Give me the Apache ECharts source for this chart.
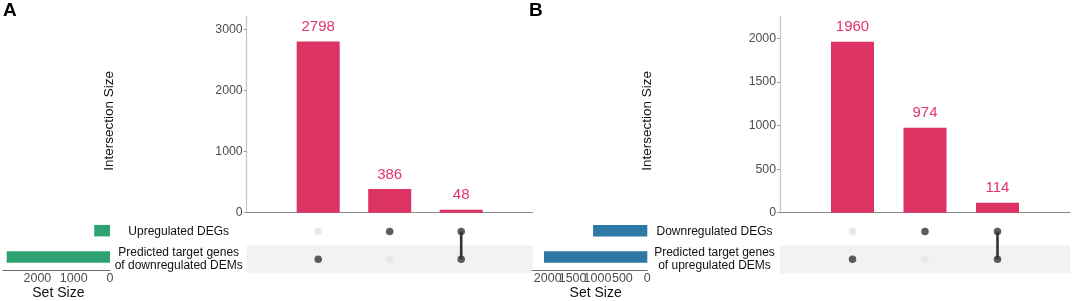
<!DOCTYPE html>
<html>
<head>
<meta charset="utf-8">
<script src="https://cdn.jsdelivr.net/npm/echarts@6.0.0/dist/echarts.min.js"></script>
<style>
  html, body { margin: 0; padding: 0; background: #fff; }
  #main { width: 1072px; height: 301px; }
</style>
</head>
<body>
<div id="main"></div>
<script>
// panel A
var setNamesA = ['Upregulated DEGs', 'Predicted target genes\nof downregulated DEMs'];
var setSizesA = [434, 2846];
var interSizesA = [2798, 386, 48];
var interSetsA = [[1], [0], [0, 1]];
var yTicksA = [0, 1000, 2000, 3000];
var setTicksA = [0, 1000, 2000];

// panel B
var setNamesB = ['Downregulated DEGs', 'Predicted target genes\nof upregulated DEMs'];
var setSizesB = [1088, 2074];
var interSizesB = [1960, 974, 114];
var interSetsB = [[1], [0], [0, 1]];
var yTicksB = [0, 500, 1000, 1500, 2000];
var setTicksB = [0, 500, 1000, 1500, 2000];

var FONT = '"Liberation Sans", Arial, Helvetica, sans-serif';
var BAR_COLOR = '#dc3264';
var LABEL_COLOR = '#e2356a';
var DARK = '#333333';
var LIGHT = '#e3e3e3';

function plain(v) { return String(v); }

var option = {
  animation: false,
  backgroundColor: '#fff',
  textStyle: { fontFamily: FONT },
  title: [
    { text: 'A', left: 3, top: 1, padding: 0, textStyle: { fontSize: 19, fontWeight: 'bold', color: '#000', fontFamily: FONT } },
    { text: 'B', left: 529, top: 1, padding: 0, textStyle: { fontSize: 19, fontWeight: 'bold', color: '#000', fontFamily: FONT } }
  ],
  grid: [], xAxis: [], yAxis: [], series: []
};

function addPanel(p) {
  var g = option.grid.length;
  var n = p.inter.length;
  var cats = [''];
  for (var i = 0; i < n; i++) cats.push('I' + (i + 1));
  cats.push('');

  // intersection bars
  option.grid.push({ left: p.barLeft, top: 16, width: p.barWidth, height: 196.7 });
  // matrix
  option.grid.push({ left: p.barLeft, top: 217.5, width: p.barWidth, height: 55.8 });
  // set size bars
  option.grid.push({ left: p.setLeft, top: 217.5, width: p.setWidth, height: 55.8 });

  var xBar = option.xAxis.length;
  option.xAxis.push({
    gridIndex: g, type: 'category', data: cats, boundaryGap: false,
    axisLine: { lineStyle: { color: '#8a8a8a', width: 1 } },
    axisTick: { show: false }, axisLabel: { show: false }, splitLine: { show: false }
  });
  option.yAxis.push({
    gridIndex: g, type: 'value', min: 0, max: p.yMax,
    axisLine: { show: true, lineStyle: { color: '#c6c6c6', width: 1.2 } },
    axisTick: { show: true, length: 3, customValues: p.yTicks, lineStyle: { color: '#9a9a9a' } },
    axisLabel: { customValues: p.yTicks, formatter: plain, fontSize: 12.3, color: '#4d4d4d', margin: 4, fontFamily: FONT },
    splitLine: { show: false },
    name: 'Intersection Size', nameLocation: 'middle', nameGap: p.nameGap, nameRotate: 90,
    nameTextStyle: { fontSize: 13.5, color: '#111', fontFamily: FONT, padding: [0, 13, 0, 0] }
  });

  var xMat = option.xAxis.length;
  option.xAxis.push({
    gridIndex: g + 1, type: 'category', data: cats, boundaryGap: false, show: false
  });
  option.yAxis.push({
    gridIndex: g + 1, type: 'category', data: p.sets, inverse: true,
    axisLine: { show: false }, axisTick: { show: false },
    axisLabel: { align: 'center', margin: p.setNameMargin, fontSize: 12, lineHeight: 13.4, color: '#111', fontFamily: FONT },
    splitArea: { show: true, areaStyle: { color: ['rgba(255,255,255,0)', '#f2f2f2'] } }
  });

  // set size axis: ticks split over two axes so that crowded labels all stay visible
  var evenTicks = p.setTicks.filter(function (v, k) { return k % 2 === 0; });
  var oddTicks = p.setTicks.filter(function (v, k) { return k % 2 === 1; });
  var xSet = option.xAxis.length;
  option.xAxis.push({
    gridIndex: g + 2, type: 'value', inverse: true, min: 0, max: p.setMax, position: 'bottom',
    axisLine: { show: true, lineStyle: { color: '#6b6b6b', width: 1 } },
    axisTick: { show: false },
    axisLabel: { customValues: evenTicks, formatter: plain, fontSize: 12.5, color: '#4d4d4d', margin: 2, fontFamily: FONT },
    splitLine: { show: false },
    name: 'Set Size', nameLocation: 'middle', nameGap: 15,
    nameTextStyle: { fontSize: 14, color: '#111', fontFamily: FONT, padding: p.setTitlePad }
  });
  if (oddTicks.length) {
    option.xAxis.push({
      gridIndex: g + 2, type: 'value', inverse: true, min: 0, max: p.setMax, position: 'bottom', offset: 0,
      axisLine: { show: false }, axisTick: { show: false }, splitLine: { show: false },
      axisLabel: { customValues: oddTicks, formatter: plain, fontSize: 12.5, color: '#4d4d4d', margin: 2, fontFamily: FONT }
    });
  }
  option.yAxis.push({
    gridIndex: g + 2, type: 'category', data: p.sets, inverse: true, show: false
  });

  option.series.push({
    type: 'bar', xAxisIndex: xBar, yAxisIndex: g, barWidth: 43,
    itemStyle: { color: BAR_COLOR },
    label: { show: true, position: 'top', distance: 7, fontSize: 15, color: LABEL_COLOR, fontFamily: FONT },
    data: p.inter.map(function (v, i) { return [i + 1, v]; })
  });

  var light = [], dark = [];
  p.interSets.forEach(function (members, i) {
    p.sets.forEach(function (s, j) {
      if (members.indexOf(j) >= 0) dark.push([i + 1, j]);
      else light.push([i + 1, j]);
    });
    if (members.length > 1) {
      option.series.push({
        type: 'line', xAxisIndex: xMat, yAxisIndex: g + 1, symbol: 'none', z: 3,
        lineStyle: { color: DARK, width: 2.6 },
        data: [[i + 1, Math.min.apply(null, members)], [i + 1, Math.max.apply(null, members)]]
      });
    }
  });
  option.series.push({
    type: 'scatter', xAxisIndex: xMat, yAxisIndex: g + 1, symbolSize: 7.5, z: 4,
    itemStyle: { color: LIGHT }, data: light
  });
  option.series.push({
    type: 'scatter', xAxisIndex: xMat, yAxisIndex: g + 1, symbolSize: 7.5, z: 4,
    itemStyle: { color: DARK }, data: dark
  });

  option.series.push({
    type: 'bar', xAxisIndex: xSet, yAxisIndex: g + 2, barWidth: 11.5,
    itemStyle: { color: p.setColor }, data: p.setSizes
  });
}

addPanel({
  sets: setNamesA, setSizes: setSizesA, inter: interSizesA, interSets: interSetsA,
  yTicks: yTicksA, setTicks: setTicksA,
  barLeft: 246.7, barWidth: 286, yMax: 3215,
  setLeft: 2.7, setWidth: 107.3, setMax: 2956, setColor: '#2fa273',
  nameGap: 130, setNameMargin: 68, setTitlePad: [0, 0, 0, 4]
});
addPanel({
  sets: setNamesB, setSizes: setSizesB, inter: interSizesB, interSets: interSetsB,
  yTicks: yTicksB, setTicks: setTicksB,
  barLeft: 780, barWidth: 290, yMax: 2256,
  setLeft: 532, setWidth: 115.3, setMax: 2315, setColor: '#2e78a6',
  nameGap: 126, setNameMargin: 65.5, setTitlePad: [0, 0, 0, 12]
});

var chart = echarts.init(document.getElementById('main'));
chart.setOption(option);
</script>
</body>
</html>
